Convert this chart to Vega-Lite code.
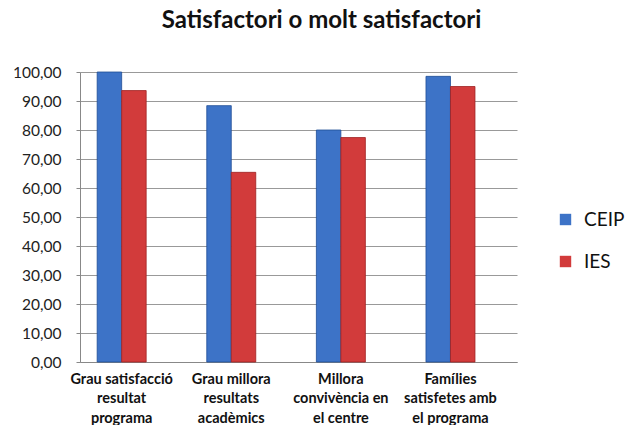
{
  "$schema": "https://vega.github.io/schema/vega-lite/v6.json",
  "autosize": {"type": "none"},
  "width": 437,
  "height": 290,
  "padding": {"left": 80, "top": 72, "right": 114, "bottom": 63},
  "background": "white",
  "title": {
    "text": "Satisfactori o molt satisfactori",
    "font": "Lato",
    "fontSize": 24,
    "fontWeight": "bold",
    "color": "#111111",
    "anchor": "middle",
    "dx": 23,
    "offset": 32
  },
  "data": {
    "values": [
      {"categoria": "Grau satisfacció|resultat|programa", "grup": "CEIP", "valor": 100.0},
      {"categoria": "Grau satisfacció|resultat|programa", "grup": "IES", "valor": 93.6},
      {"categoria": "Grau millora|resultats|acadèmics", "grup": "CEIP", "valor": 88.4},
      {"categoria": "Grau millora|resultats|acadèmics", "grup": "IES", "valor": 65.4},
      {"categoria": "Millora|convivència en|el centre", "grup": "CEIP", "valor": 80.0},
      {"categoria": "Millora|convivència en|el centre", "grup": "IES", "valor": 77.4},
      {"categoria": "Famílies|satisfetes amb|el programa", "grup": "CEIP", "valor": 98.5},
      {"categoria": "Famílies|satisfetes amb|el programa", "grup": "IES", "valor": 95.0}
    ]
  },
  "mark": {"type": "bar", "strokeWidth": 0.8},
  "encoding": {
    "x": {
      "field": "categoria",
      "type": "nominal",
      "sort": null,
      "title": null,
      "scale": {"paddingInner": 0.553, "paddingOuter": 0.27, "align": 0.29},
      "axis": {
        "labelExpr": "split(datum.label, '|')",
        "labelAngle": 0,
        "labelFont": "Lato",
        "labelFontSize": 14.5,
        "labelFontWeight": "bold",
        "labelColor": "#111111",
        "labelLineHeight": 19.5,
        "labelPadding": 10,
        "labelLimit": 200,
        "ticks": false,
        "domainColor": "#888888",
        "domainWidth": 1
      }
    },
    "xOffset": {"field": "grup", "type": "nominal", "sort": ["CEIP", "IES"]},
    "y": {
      "field": "valor",
      "type": "quantitative",
      "title": null,
      "scale": {"domain": [0, 100], "nice": false},
      "axis": {
        "values": [0, 10, 20, 30, 40, 50, 60, 70, 80, 90, 100],
        "labelExpr": "replace(format(datum.value, '.2f'), '.', ',')",
        "labelFont": "Lato",
        "labelFontSize": 15.5,
        "labelColor": "#222222",
        "labelPadding": 15,
        "tickSize": 4,
        "tickColor": "#888888",
        "domainColor": "#888888",
        "gridColor": "#999999",
        "gridWidth": 1
      }
    },
    "color": {
      "field": "grup",
      "type": "nominal",
      "sort": ["CEIP", "IES"],
      "scale": {"domain": ["CEIP", "IES"], "range": ["#3D73C7", "#D23B3B"]},
      "legend": {
        "title": null,
        "orient": "none",
        "legendX": 476,
        "legendY": 138,
        "symbolType": "square",
        "symbolSize": 130,
        "symbolStrokeWidth": 0,
        "labelFont": "Lato",
        "labelFontSize": 19,
        "labelColor": "#111111",
        "rowPadding": 22,
        "labelOffset": 9
      }
    },
    "stroke": {
      "field": "grup",
      "type": "nominal",
      "scale": {"domain": ["CEIP", "IES"], "range": ["#1F4E95", "#9E2222"]},
      "legend": null
    }
  },
  "config": {"view": {"stroke": null}}
}
